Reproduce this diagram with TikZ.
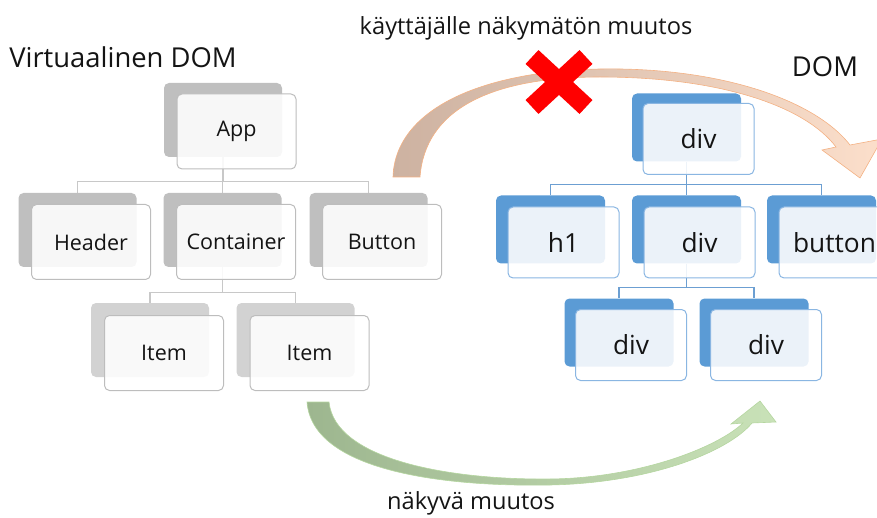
\documentclass[tikz,border=0pt]{standalone}
\usepackage{fontspec}
\setmainfont{Open Sans}
\usepackage{tikz}
\usetikzlibrary{positioning}
\pgfdeclarelayer{background}
\pgfsetlayers{background,main}

\definecolor{vgrey}{HTML}{BFBFBF}
\definecolor{vgreylight}{HTML}{D2D2D2}
\definecolor{vedge}{HTML}{BDBDBD}
\definecolor{vline}{HTML}{C8C8C8}
\definecolor{dblue}{HTML}{5B9BD5}
\definecolor{dedge}{HTML}{8AB6E2}
\definecolor{dline}{HTML}{6C9FD2}
\definecolor{txt}{HTML}{141414}
\definecolor{crossred}{HTML}{FF0000}
\definecolor{peachdark}{HTML}{CDB2A1}
\definecolor{peachlight}{HTML}{FCDFCB}
\definecolor{peachedge}{HTML}{F4B183}
\definecolor{greendark}{HTML}{9DB68F}
\definecolor{greenlight}{HTML}{C9E2B8}
\definecolor{greenedge}{HTML}{B5D6A0}

\tikzset{
  vback/.style={fill=#1, rounded corners=5pt, minimum width=118pt, minimum height=74pt, inner sep=0pt},
  vback/.default=vgrey,
  vfront/.style={draw=vedge, line width=1pt, fill=white, fill opacity=0.88, text opacity=1, text=txt,
    rounded corners=5pt, minimum width=119pt, minimum height=75pt, font=\fontsize{21.5}{26}\selectfont},
  dback/.style={fill=dblue, rounded corners=5pt, minimum width=109pt, minimum height=68pt, inner sep=0pt},
  dfront/.style={draw=dedge, line width=1pt, fill=white, fill opacity=0.88, text opacity=1, text=txt,
    rounded corners=5pt, minimum width=111pt, minimum height=71pt, font=\fontsize{26.3}{31}\selectfont},
  vlink/.style={draw=vline, line width=1.2pt},
  dlink/.style={draw=dline, line width=1.2pt},
  heading/.style={text=txt, font=\fontsize{27.4}{32}\selectfont},
  remark/.style={text=txt, font=\fontsize{23.6}{28}\selectfont},
}

\begin{document}
\begin{tikzpicture}[x=1pt,y=-1pt]
    \useasboundingbox (0,0) rectangle (877,518);

    % virtual DOM tree
    \node[vback] (app-b) at (223,120) {};
    \node[vfront] (app) at ([shift={(13.5,11.5)}]app-b.center) {App};
    \node[vback] (header-b) at (77.5,230) {};
    \node[vfront] (header) at ([shift={(13.5,12)}]header-b.center) {Header};
    \node[vback] (container-b) at (222.5,230) {};
    \node[vfront] (container) at ([shift={(13.5,12)}]container-b.center) {Container};
    \node[vback] (button-b) at (368.5,230) {};
    \node[vfront] (button) at ([shift={(13.5,12)}]button-b.center) {Button};
    \node[vback=vgreylight] (itema-b) at (150,340) {};
    \node[vfront] (itema) at ([shift={(14,13)}]itema-b.center) {Item};
    \node[vback=vgreylight] (itemb-b) at (295.5,340) {};
    \node[vfront] (itemb) at ([shift={(14,13)}]itemb-b.center) {Item};

    % real DOM tree
    \node[dback] (root-b) at (686.5,127.5) {};
    \node[dfront] (root) at ([shift={(12,11.5)}]root-b.center) {div};
    \node[dback] (hone-b) at (550.5,229.5) {};
    \node[dfront] (hone) at ([shift={(13,13)}]hone-b.center) {h1};
    \node[dback] (wrap-b) at (686.5,229.5) {};
    \node[dfront] (wrap) at ([shift={(13,13)}]wrap-b.center) {div};
    \node[dback] (btn-b) at (821.5,229.5) {};
    \node[dfront] (btn) at ([shift={(13,13)}]btn-b.center) {button};
    \node[dback] (diva-b) at (619,332.5) {};
    \node[dfront] (diva) at ([shift={(12,12.5)}]diva-b.center) {div};
    \node[dback] (divb-b) at (754,332.5) {};
    \node[dfront] (divb) at ([shift={(12,12.5)}]divb-b.center) {div};

    % tree lines
    \begin{pgfonlayer}{background}
    \foreach \k in {header,container,button}
        \draw[vlink] (app-b.south) -- ++(0,24) -| (\k-b.north);
    \foreach \k in {itema,itemb}
        \draw[vlink] (container-b.south) -- ++(0,25) -| (\k-b.north);
    \foreach \k in {hone,wrap,btn}
        \draw[dlink] (root-b.south) -- ++(0,23) -| (\k-b.north);
    \foreach \k in {diva,divb}
        \draw[dlink] (wrap-b.south) -- ++(0,23.5) -| (\k-b.north);
    \end{pgfonlayer}

    % titles
    \node[heading] (vtitle) at (123,57) {Virtuaalinen DOM};
    \node[heading] (dtitle) at (825,67) {DOM};
    \node[remark] (hidden) at (526,28) {käyttäjälle näkymätön muutos};
    \node[remark] (visible) at (471,503) {näkyvä muutos};

    % upper arrow
    \path[draw=peachedge, line width=0.6pt, left color=peachdark, right color=peachlight]
        (393,177) .. controls (395,110) and (480,71) .. (600,69)
        .. controls (720,67) and (815,100) .. (850,145)
        -- (882,139) -- (860,178) -- (822,150) -- (836,147)
        .. controls (805,106) and (720,77) .. (600,77)
        .. controls (490,77) and (425,110) .. (420,177) -- cycle;

    % red cross
    \coordinate (cross) at (559,82);
    \draw[crossred, line width=19pt] ([shift={(-27,-25)}]cross) -- ([shift={(27,25)}]cross);
    \draw[crossred, line width=19pt] ([shift={(27,-25)}]cross) -- ([shift={(-27,25)}]cross);

    % lower arrow
    \path[draw=greenedge, line width=0.6pt, left color=greendark, right color=greenlight]
        (307,402) .. controls (312,470) and (440,487) .. (550,485)
        .. controls (650,483) and (728,452) .. (752,423)
        -- (776,422) -- (760,401) -- (731,424) -- (743,423)
        .. controls (718,447) and (640,478) .. (550,479)
        .. controls (450,480) and (335,460) .. (329,402) -- cycle;
\end{tikzpicture}
\end{document}
